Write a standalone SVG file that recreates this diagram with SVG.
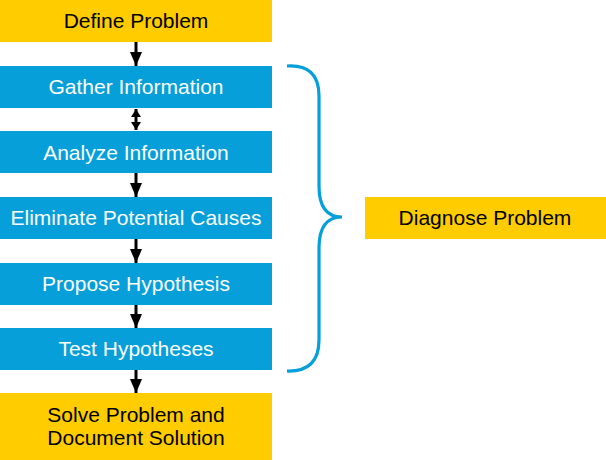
<svg xmlns="http://www.w3.org/2000/svg" width="606" height="460" viewBox="0 0 606 460">
<style>
.y{fill:#ffcc00}
.b{fill:#069fd9}
.t{font-family:"Liberation Sans",Arial,sans-serif;font-size:21px;text-anchor:middle}
.tw{fill:#ffffff}
.tk{fill:#000000}
.c{stroke:#000;stroke-width:3;fill:none}
</style>
<defs>
<marker id="ah" viewBox="0 0 14 12" refX="14" refY="6" markerWidth="14" markerHeight="12" markerUnits="userSpaceOnUse" orient="auto-start-reverse">
<path d="M0,0 L14,6 L0,12 Z" fill="#000"/>
</marker>
<marker id="ahs" viewBox="0 0 8 10" refX="8" refY="5" markerWidth="8" markerHeight="10" markerUnits="userSpaceOnUse" orient="auto-start-reverse">
<path d="M0,0 L8,5 L0,10 Z" fill="#000"/>
</marker>
</defs>
<g id="define"><rect class="y" x="0" y="0" width="272" height="42"/><text class="t tk" x="136" y="28">Define Problem</text></g>
<g id="gather"><rect class="b" x="0" y="66" width="272" height="42"/><text class="t tw" x="136" y="94">Gather Information</text></g>
<g id="analyze"><rect class="b" x="0" y="131" width="272" height="42"/><text class="t tw" x="136" y="160">Analyze Information</text></g>
<g id="eliminate"><rect class="b" x="0" y="197" width="272" height="42"/><text class="t tw" x="136" y="225">Eliminate Potential Causes</text></g>
<g id="propose"><rect class="b" x="0" y="263" width="272" height="42"/><text class="t tw" x="136" y="291">Propose Hypothesis</text></g>
<g id="test"><rect class="b" x="0" y="328" width="272" height="42"/><text class="t tw" x="136" y="356">Test Hypotheses</text></g>
<g id="solve"><rect class="y" x="0" y="393" width="272" height="67"/><text class="t tk" x="136" y="422">Solve Problem and</text><text class="t tk" x="136" y="445">Document Solution</text></g>
<g id="diagnose"><rect class="y" x="365" y="197" width="241" height="42"/><text class="t tk" x="485" y="225">Diagnose Problem</text></g>
<g id="brace"><path d="M287,66 Q319,64 319,96 L319,186 Q319,217 342,217 Q319,217 319,248 L319,340 Q319,372 287,371" fill="none" stroke="#069fd9" stroke-width="3.2"/></g>
<g id="connectors">
<line class="c" x1="136" y1="42" x2="136" y2="66" marker-end="url(#ah)"/>
<line class="c" x1="136" y1="109" x2="136" y2="130" marker-start="url(#ahs)" marker-end="url(#ahs)"/>
<line class="c" x1="136" y1="173" x2="136" y2="197" marker-end="url(#ah)"/>
<line class="c" x1="136" y1="239" x2="136" y2="263" marker-end="url(#ah)"/>
<line class="c" x1="136" y1="305" x2="136" y2="328" marker-end="url(#ah)"/>
<line class="c" x1="136" y1="370" x2="136" y2="393" marker-end="url(#ah)"/>
</g>
</svg>
